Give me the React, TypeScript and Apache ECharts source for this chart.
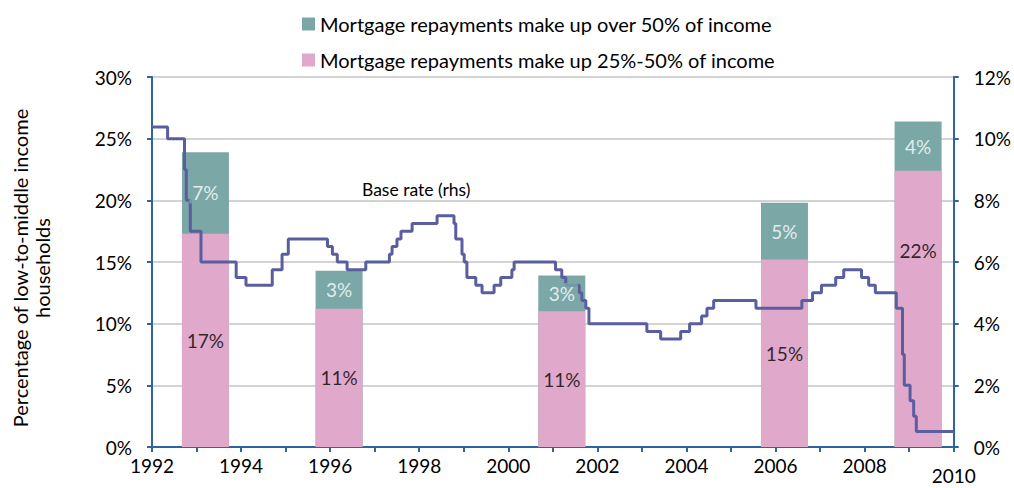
import React, { useEffect, useRef } from 'react';
import * as echarts from 'echarts';

const FONT = 'Lato';
const PINK = '#E0A8CB';
const TEAL = '#7BA8A7';
const LINE = '#5A5E9F';
const AXIS = '#2E64A0';

const seriesOver50Name = 'Mortgage repayments make up over 50% of income';
const series25to50Name = 'Mortgage repayments make up 25%-50% of income';

// Survey years (bar positions on the time axis)
const barYears = [1993.2, 1996.2, 2001.2, 2006.2, 2009.2];
// Share of low-to-middle income households (%)
const share25to50 = [17.3, 11.2, 11.0, 15.2, 22.4];
const shareOver50 = [6.6, 3.1, 2.9, 4.6, 4.0];

// Base rate (rhs), date of change (decimal year) and new rate (%)
const rateDates = [
  1992.0, 1992.35, 1992.73, 1992.77, 1992.86, 1993.1, 1993.89, 1994.11, 1994.7, 1994.92,
  1995.06, 1995.94, 1996.05, 1996.16, 1996.38, 1996.8, 1997.33, 1997.39, 1997.5, 1997.59,
  1997.84, 1998.4, 1998.78, 1998.82, 1998.96, 1999.01, 1999.07, 1999.27, 1999.41, 1999.68,
  1999.83, 2000.08, 2000.13, 2001.06, 2001.2, 2001.29, 2001.59, 2001.65, 2001.74, 2001.81,
  2003.11, 2003.42, 2003.87, 2004.07, 2004.34, 2004.46, 2004.61, 2005.56, 2006.59, 2006.83,
  2007.03, 2007.35, 2007.53, 2007.93, 2008.09, 2008.24, 2008.71, 2008.85, 2008.89, 2009.02,
  2009.1, 2009.16, 2010.0,
];
const rateValues = [
  10.375, 10.0, 9.0, 8.0, 7.0, 6.0, 5.5, 5.25, 5.75, 6.25,
  6.75, 6.5, 6.25, 6.0, 5.75, 6.0, 6.25, 6.5, 6.75, 7.0,
  7.25, 7.5, 7.25, 6.75, 6.25, 6.0, 5.5, 5.25, 5.0, 5.25,
  5.5, 5.75, 6.0, 5.75, 5.5, 5.25, 5.0, 4.75, 4.5, 4.0,
  3.75, 3.5, 3.75, 4.0, 4.25, 4.5, 4.75, 4.5, 4.75, 5.0,
  5.25, 5.5, 5.75, 5.5, 5.25, 5.0, 4.5, 3.0, 2.0, 1.5,
  1.0, 0.5, 0.5,
];

const xTickLabels = ['1992', '1994', '1996', '1998', '2000', '2002', '2004', '2006', '2008', '2010'];
const yAxisTitle = 'Percentage of low-to-middle income\nhouseholds';
const lineLabel = 'Base rate (rhs)';

export default function App() {
  const ref = useRef<HTMLDivElement>(null);
  useEffect(() => {
    if (!ref.current) return;
    const chart = echarts.init(ref.current, null, { renderer: 'svg' });
    const lastIdx = barYears.length - 1;
    const totals = barYears.map((_, i) => share25to50[i] + shareOver50[i]);
    const labelBase = {
      show: true,
      position: 'inside',
      fontSize: 19,
      fontFamily: FONT,
      padding: [1, 3],
    };
    chart.setOption({
      animation: false,
      textStyle: { fontFamily: FONT },
      grid: { left: 152, right: 59, top: 77, bottom: 41, containLabel: false },
      legend: {
        data: [seriesOver50Name, series25to50Name],
        orient: 'vertical',
        left: 297,
        top: 9,
        itemWidth: 13,
        itemHeight: 13,
        itemGap: 16,
        icon: 'rect',
        selectedMode: false,
        textStyle: { fontSize: 20, fontFamily: FONT, color: '#000' },
      },
      xAxis: {
        type: 'value',
        min: 1992,
        max: 2010,
        interval: 1,
        axisLine: { show: true, lineStyle: { color: AXIS, width: 2 } },
        axisTick: { show: true, length: 5, lineStyle: { color: AXIS, width: 2 } },
        splitLine: { show: false },
        axisLabel: {
          margin: 9,
          fontSize: 19,
          fontFamily: FONT,
          color: '#000',
          showMaxLabel: true,
          formatter: (v: number) => {
            const s = String(Math.round(v));
            if (!xTickLabels.includes(s)) return '';
            return s === '2010' ? '{low|' + s + '}' : s;
          },
          rich: { low: { fontSize: 19, fontFamily: FONT, color: '#000', padding: [10, 0, 0, 0] } },
        },
      },
      yAxis: [
        {
          type: 'value',
          min: 0,
          max: 30,
          interval: 5,
          position: 'left',
          axisLine: { show: true, lineStyle: { color: AXIS, width: 2 } },
          axisTick: { show: true, length: 5, lineStyle: { color: AXIS, width: 2 } },
          axisLabel: { formatter: '{value}%', fontSize: 19, fontFamily: FONT, color: '#000', margin: 20 },
          splitLine: { show: true, lineStyle: { color: '#D3D3D3', width: 2 } },
        },
        {
          type: 'value',
          min: 0,
          max: 12,
          interval: 2,
          position: 'right',
          axisLine: { show: true, lineStyle: { color: AXIS, width: 2 } },
          axisTick: { show: true, length: 5, lineStyle: { color: AXIS, width: 2 } },
          axisLabel: { formatter: '{value}%', fontSize: 19, fontFamily: FONT, color: '#000', margin: 20 },
          splitLine: { show: false },
        },
      ],
      series: [
        {
          // full bar height (25%-50% + over 50%); the over-50% part shows above the pink bar
          type: 'bar',
          name: seriesOver50Name,
          barWidth: 47,
          barGap: '-100%',
          z: 2,
          itemStyle: { color: TEAL },
          data: barYears.map((y, i) => [y, totals[i]]),
        },
        {
          type: 'bar',
          name: series25to50Name,
          barWidth: 47,
          barGap: '-100%',
          z: 2,
          itemStyle: { color: PINK },
          data: barYears.map((y, i) => [y, share25to50[i]]),
        },
        {
          type: 'line',
          name: lineLabel,
          yAxisIndex: 1,
          step: 'end',
          symbol: 'none',
          showSymbol: false,
          z: 3,
          lineStyle: { color: LINE, width: 3 },
          data: rateDates.map((d, i) => [d, rateValues[i]]),
        },
        {
          type: 'scatter',
          name: 'lbl-25-50',
          symbolSize: 0,
          z: 5,
          itemStyle: { color: 'rgba(0,0,0,0)' },
          label: {
            ...labelBase,
            color: '#000',
            backgroundColor: PINK,
            formatter: (p: any) => Math.round(p.value[2]) + '%',
          },
          data: barYears.map((y, i) =>
            i === lastIdx
              ? { value: [y, share25to50[i] / 2, share25to50[i]], label: { offset: [0, -58] } }
              : { value: [y, share25to50[i] / 2, share25to50[i]] }
          ),
        },
        {
          type: 'scatter',
          name: 'lbl-over-50',
          symbolSize: 0,
          z: 5,
          itemStyle: { color: 'rgba(0,0,0,0)' },
          label: {
            ...labelBase,
            color: '#fff',
            backgroundColor: TEAL,
            formatter: (p: any) => Math.round(p.value[2]) + '%',
          },
          data: barYears.map((y, i) => [y, share25to50[i] + shareOver50[i] / 2, shareOver50[i]]),
        },
      ],
      graphic: [
        {
          type: 'text',
          left: 362,
          top: 180,
          style: { text: lineLabel, fontSize: 17.5, fontFamily: FONT, fill: '#000' },
        },
        {
          type: 'text',
          x: 31,
          y: 268,
          rotation: Math.PI / 2,
          style: {
            text: yAxisTitle,
            fontSize: 20,
            lineHeight: 22,
            fontFamily: FONT,
            fill: '#000',
            align: 'center',
            verticalAlign: 'middle',
          },
        },
      ],
    });
    return () => chart.dispose();
  }, []);
  return (
    <div
      ref={ref}
      style={{ position: 'absolute', left: 0, top: 0, width: 1014, height: 488 }}
    />
  );
}
